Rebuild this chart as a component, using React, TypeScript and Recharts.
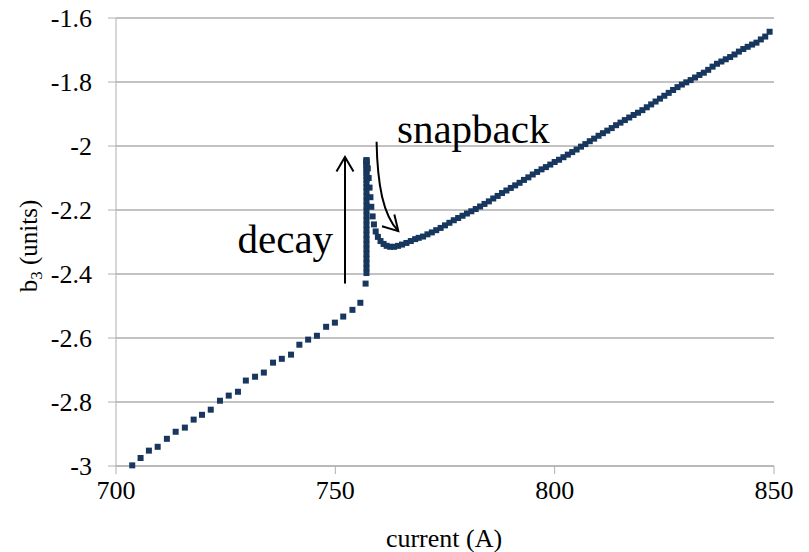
import React from "react";
import {
  ScatterChart,
  Scatter,
  XAxis,
  YAxis,
  CartesianGrid,
} from "recharts";

// ramp up to the plateau (2 A steps)
const rampCurrent = [
  703.7, 705.6, 707.5, 709.5, 711.6, 713.6, 715.7, 717.7, 719.6, 721.6,
  723.7, 725.7, 727.8, 729.6, 731.7, 733.7, 735.8, 737.8, 739.9, 741.8,
  743.8, 745.8, 747.9, 749.9, 751.8, 753.9, 755.7, 756.9,
];
const rampB3 = [
  -2.998, -2.975, -2.952, -2.94, -2.915, -2.893, -2.88, -2.855, -2.84, -2.824,
  -2.796, -2.78, -2.768, -2.733, -2.721, -2.708, -2.677, -2.665, -2.652, -2.621,
  -2.605, -2.593, -2.565, -2.552, -2.533, -2.512, -2.49, -2.43,
];

// plateau: b3 drifts while the current is held
const plateauCurrent = 757.1;
const plateauB3 = [
  -2.397, -2.382, -2.367, -2.352, -2.337, -2.322, -2.307, -2.292, -2.277, -2.262,
  -2.247, -2.232, -2.217, -2.202, -2.187, -2.172, -2.157, -2.142, -2.129, -2.117,
  -2.105, -2.094, -2.084, -2.075, -2.067, -2.06, -2.054, -2.049, -2.046, -2.044,
];

// snapback once the ramp resumes
const snapCurrent = [
  757.4, 757.6, 757.8, 758.0, 758.2, 758.5, 758.8, 759.2, 759.7, 760.3,
  761.0, 761.7, 762.5, 763.4, 764.3, 765.2, 766.2, 767.2, 768.2,
];
const snapB3 = [
  -2.07, -2.1, -2.13, -2.16, -2.19, -2.22, -2.245, -2.267, -2.284, -2.297,
  -2.306, -2.312, -2.315, -2.315, -2.312, -2.308, -2.303, -2.297, -2.291,
];

// ramp continues, 1 A steps from 769 A
const upperStart = 769;
const upperB3 = [
  -2.287, -2.283, -2.276, -2.27, -2.263, -2.256, -2.248, -2.24, -2.232, -2.225,
  -2.218, -2.211, -2.204, -2.197, -2.189, -2.181, -2.173, -2.164, -2.156, -2.147,
  -2.139, -2.131, -2.123, -2.115, -2.106, -2.098, -2.089, -2.081, -2.073, -2.066,
  -2.058, -2.05, -2.043, -2.035, -2.027, -2.019, -2.011, -2.002, -1.994, -1.985,
  -1.977, -1.968, -1.96, -1.952, -1.944, -1.935, -1.927, -1.919, -1.911, -1.903,
  -1.896, -1.888, -1.879, -1.87, -1.861, -1.852, -1.843, -1.834, -1.825, -1.816,
  -1.808, -1.801, -1.794, -1.786, -1.778, -1.771, -1.762, -1.752, -1.743, -1.736,
  -1.729, -1.722, -1.714, -1.705, -1.697, -1.69, -1.683, -1.677, -1.667, -1.658,
  -1.643,
];

const xTicks = [700, 750, 800, 850];
const yTicks = [-3, -2.8, -2.6, -2.4, -2.2, -2, -1.8, -1.6];

const points = [
  ...rampCurrent.map((c, i) => ({ current: c, b3: rampB3[i] })),
  ...plateauB3.map((v) => ({ current: plateauCurrent, b3: v })),
  ...snapCurrent.map((c, i) => ({ current: c, b3: snapB3[i] })),
  ...upperB3.map((v, i) => ({ current: upperStart + i, b3: v })),
];

const W = 809;
const H = 552;
const PLOT = { left: 116, top: 18, right: 774, bottom: 466 };
const FONT = "'Liberation Serif', 'Times New Roman', serif";
const MARK = "#17375e";
const TICK_SIZE = 26;

// same mapping the axes use, for the annotation layer
const sx = (a: number) =>
  PLOT.left + ((a - 700) / 150) * (PLOT.right - PLOT.left);
const sy = (v: number) =>
  PLOT.top + ((-1.6 - v) / 1.4) * (PLOT.bottom - PLOT.top);

const Square = (props: any) => {
  const { cx, cy } = props;
  if (cx == null || cy == null) return null;
  return <rect x={cx - 3} y={cy - 3} width={6} height={6} fill={MARK} />;
};

const XTick = ({ x, y, payload }: any) => (
  <text x={x} y={y} dy="0.71em" textAnchor="middle" fill="#000" fontSize={TICK_SIZE} fontFamily={FONT}>
    {payload.value}
  </text>
);

const YTick = ({ x, y, payload }: any) => (
  <text x={x} y={y} dy="0.355em" textAnchor="end" fill="#000" fontSize={TICK_SIZE} fontFamily={FONT}>
    {payload.value}
  </text>
);

function arrowHead(tx: number, ty: number, fx: number, fy: number) {
  const len = Math.hypot(tx - fx, ty - fy);
  const ux = (fx - tx) / len;
  const uy = (fy - ty) / len;
  const a = (30 * Math.PI) / 180;
  const L = 17;
  const r = (s: number) => [
    tx + L * (ux * Math.cos(s * a) - uy * Math.sin(s * a)),
    ty + L * (ux * Math.sin(s * a) + uy * Math.cos(s * a)),
  ];
  const [x1, y1] = r(1);
  const [x2, y2] = r(-1);
  return `M${x1},${y1} L${tx},${ty} L${x2},${y2}`;
}

function Annotations() {
  const dx = sx(752.2);
  const dTop = sy(-2.034);
  const dBot = sy(-2.43);

  const s0 = [sx(759.4), sy(-1.987)];
  const c1 = [sx(759.6), sy(-2.122)];
  const c2 = [sx(760.9), sy(-2.216)];
  const s1 = [sx(764.35), sy(-2.266)];

  return (
    <svg
      width={W}
      height={H}
      style={{ position: "absolute", left: 0, top: 0, pointerEvents: "none" }}
    >
      <g stroke="#000" strokeWidth={2} fill="none">
        <line x1={dx} y1={dBot} x2={dx} y2={dTop} />
        <path d={arrowHead(dx, dTop, dx, dBot)} />
        <path d={`M${s0[0]},${s0[1]} C${c1[0]},${c1[1]} ${c2[0]},${c2[1]} ${s1[0]},${s1[1]}`} />
        <path d={arrowHead(s1[0], s1[1], c2[0], c2[1])} />
      </g>
      <g fontFamily={FONT} fill="#000">
        <text x={sx(727.7)} y={sy(-2.334)} fontSize={41}>decay</text>
        <text x={sx(764.05)} y={sy(-1.99)} fontSize={41}>snapback</text>
        <text x={444} y={547} fontSize={TICK_SIZE} textAnchor="middle">current (A)</text>
        <text x={37} y={246} fontSize={25} textAnchor="middle" transform="rotate(-90 37 246)">
          b<tspan fontSize={17} dy={5}>3</tspan>
          <tspan dy={-5}> (units)</tspan>
        </text>
      </g>
    </svg>
  );
}

export default function App() {
  return (
    <div style={{ position: "absolute", left: 0, top: 0, width: W, height: H }}>
      <ScatterChart
        width={W}
        height={H}
        margin={{ top: PLOT.top, right: W - PLOT.right, bottom: 36, left: 36 }}
      >
        <CartesianGrid vertical={false} stroke="#868686" />
        <XAxis
          type="number"
          dataKey="current"
          domain={[700, 850]}
          ticks={xTicks}
          height={50}
          tickSize={8}
          tickMargin={7}
          stroke="#b0b0b0"
          tick={<XTick />}
        />
        <YAxis
          type="number"
          dataKey="b3"
          domain={[-3, -1.6]}
          ticks={yTicks}
          width={80}
          tickSize={8}
          tickMargin={16}
          stroke="#b0b0b0"
          tick={<YTick />}
        />
        <Scatter data={points} shape={Square} isAnimationActive={false} />
      </ScatterChart>
      <Annotations />
    </div>
  );
}
